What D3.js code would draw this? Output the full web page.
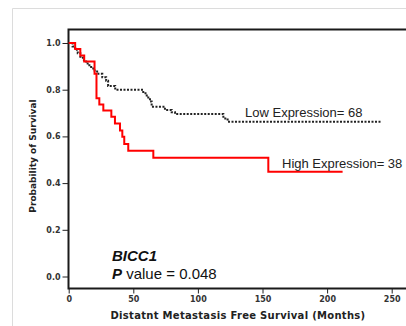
<!DOCTYPE html>
<html>
<head>
<meta charset="utf-8">
<script src="https://cdn.jsdelivr.net/npm/d3@7"></script>
<style>
  html, body { margin: 0; padding: 0; background: #fff; }
  svg { display: block; }
</style>
</head>
<body>
<svg id="chart" width="406" height="326"></svg>
<script>
// Kaplan-Meier step points: [time in months, survival probability]
const lowTimes = [0, 3, 5, 7, 9, 11, 13.5, 16, 19, 22, 26, 29, 30.5, 36, 57.7, 60.4, 62.9, 64.2, 74.5, 79.7, 82.3, 119.7, 123];
const lowSurv  = [1.0, 0.985, 0.971, 0.956, 0.941, 0.926, 0.912, 0.897, 0.882, 0.868, 0.853, 0.838, 0.816, 0.800, 0.785, 0.767, 0.749, 0.727, 0.713, 0.703, 0.696, 0.677, 0.663];
const lowEnd = 242;

const highTimes = [0, 5, 9, 12, 20, 21.5, 23.7, 26.8, 33, 35.8, 39.7, 41.5, 43, 46.1, 65.5, 154.5];
const highSurv  = [1.0, 0.974, 0.947, 0.921, 0.868, 0.763, 0.737, 0.711, 0.684, 0.655, 0.625, 0.598, 0.567, 0.539, 0.509, 0.449];
const highEnd = 212;

const xTicks = [0, 50, 100, 150, 200, 250];
const yTicks = [0, 0.2, 0.4, 0.6, 0.8, 1.0];

const lowLabel = "Low Expression= 68";
const highLabel = "High Expression= 38";
const geneName = "BICC1";
const pValue = "0.048";
const xTitle = "Distatnt Metastasis Free Survival (Months)";
const yTitle = "Probability of Survival";

const svg = d3.select("#chart");

// light card border
svg.append("path")
  .attr("d", "M12.5,326 V8.5 H406")
  .attr("fill", "none")
  .attr("stroke", "#dcdcdc")
  .attr("stroke-width", 1);

const x = d3.scaleLinear().domain([0, 250]).range([68.7, 391.7]);
const y = d3.scaleLinear().domain([0, 1]).range([276.5, 43]);

const frameLeft = 68.5, frameTop = 29.5, frameBottom = 288.5, frameRight = 406;

// frame lines
svg.append("path")
  .attr("d", `M${frameRight},${frameTop} H${frameLeft} V${frameBottom} H${frameRight}`)
  .attr("fill", "none")
  .attr("stroke", "#1a1a1a")
  .attr("stroke-width", 2);

const tickFont = "'DejaVu Sans', Verdana, sans-serif";

// y axis
const yAxis = svg.append("g")
  .attr("transform", `translate(${frameLeft},0)`)
  .call(d3.axisLeft(y).tickValues(yTicks).tickFormat(d3.format(".1f")).tickSize(6).tickPadding(2));
yAxis.select(".domain").remove();
yAxis.selectAll("line").attr("stroke", "#222").attr("stroke-width", 1);
yAxis.selectAll("text")
  .attr("font-family", tickFont).attr("font-weight", "bold")
  .attr("font-size", 8).attr("fill", "#333");

// x axis
const xAxis = svg.append("g")
  .attr("transform", `translate(0,${frameBottom})`)
  .call(d3.axisBottom(x).tickValues(xTicks).tickSize(5).tickPadding(3));
xAxis.select(".domain").remove();
xAxis.selectAll("line").attr("stroke", "#222").attr("stroke-width", 1);
xAxis.selectAll("text")
  .attr("font-family", tickFont).attr("font-weight", "bold")
  .attr("font-size", 8).attr("fill", "#333");

// axis titles
svg.append("text")
  .attr("x", 238).attr("y", 319)
  .attr("text-anchor", "middle")
  .attr("font-family", tickFont).attr("font-weight", "bold")
  .attr("font-size", 10).attr("letter-spacing", 0.3).attr("fill", "#222")
  .text(xTitle);

svg.append("text")
  .attr("transform", "translate(36,156) rotate(-90)")
  .attr("text-anchor", "middle")
  .attr("font-family", tickFont).attr("font-weight", "bold")
  .attr("font-size", 9).attr("fill", "#222")
  .text(yTitle);

// survival curves
const step = d3.line()
  .x(d => x(d[0]))
  .y(d => y(d[1]))
  .curve(d3.curveStepAfter);

function pts(times, surv, end) {
  const p = times.map((t, i) => [t, surv[i]]);
  p.push([end, surv[surv.length - 1]]);
  return p;
}

svg.append("path")
  .datum(pts(lowTimes, lowSurv, lowEnd))
  .attr("d", step)
  .attr("fill", "none")
  .attr("stroke", "#222")
  .attr("stroke-width", 2)
  .attr("stroke-dasharray", "2,1.5");

svg.append("path")
  .datum(pts(highTimes, highSurv, highEnd))
  .attr("d", step)
  .attr("fill", "none")
  .attr("stroke", "#ff0000")
  .attr("stroke-width", 2);

// curve labels
const labelFont = "'Liberation Sans', Arial, sans-serif";
svg.append("text")
  .attr("x", 245).attr("y", 117)
  .attr("font-family", labelFont).attr("font-size", 13).attr("fill", "#222")
  .text(lowLabel);
svg.append("text")
  .attr("x", 282).attr("y", 168)
  .attr("font-family", labelFont).attr("font-size", 13).attr("fill", "#222")
  .text(highLabel);

// gene name and p value
svg.append("text")
  .attr("x", 112).attr("y", 261)
  .attr("font-family", labelFont).attr("font-size", 15)
  .attr("font-weight", "bold").attr("font-style", "italic").attr("fill", "#111")
  .text(geneName);

const pt = svg.append("text")
  .attr("x", 112).attr("y", 279)
  .attr("font-family", labelFont).attr("font-size", 15).attr("fill", "#111");
pt.append("tspan").attr("font-weight", "bold").attr("font-style", "italic").text("P");
pt.append("tspan").text(" value = " + pValue);
</script>
</body>
</html>
